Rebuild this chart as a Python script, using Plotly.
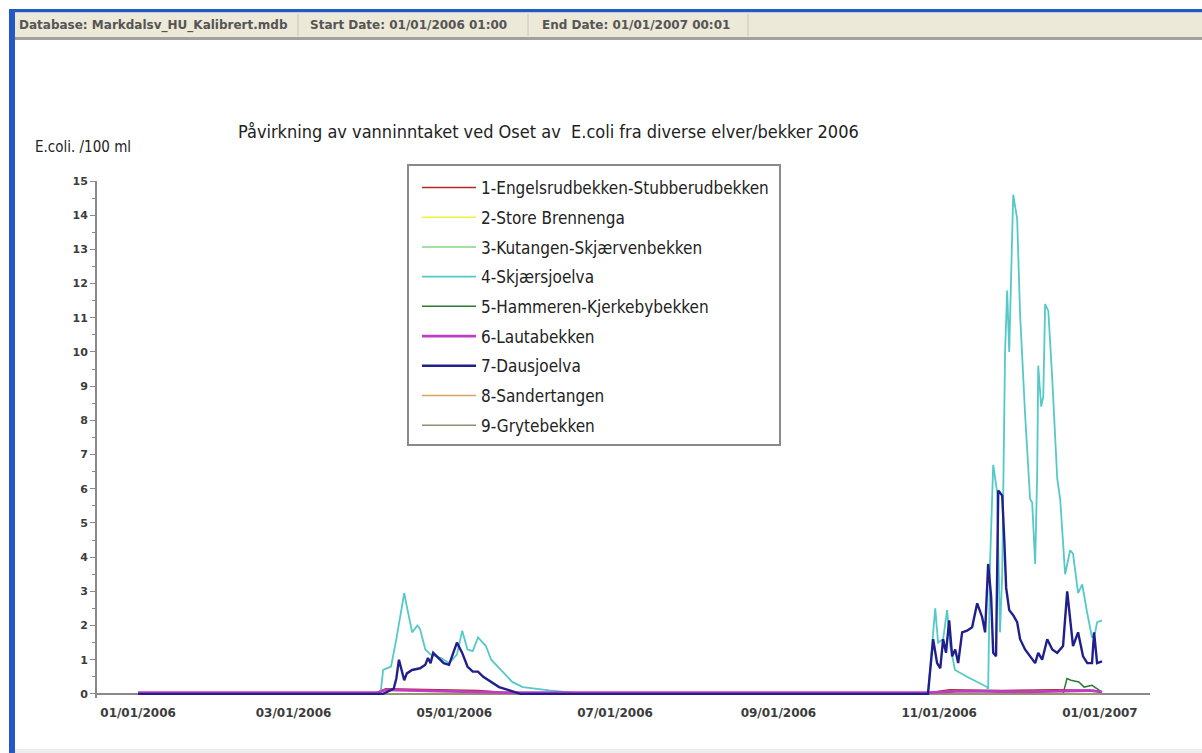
import plotly.graph_objects as go

# ---------------- data ----------------
series_names = [
    "1-Engelsrudbekken-Stubberudbekken",
    "2-Store Brennenga",
    "3-Kutangen-Skjærvenbekken",
    "4-Skjærsjoelva",
    "5-Hammeren-Kjerkebybekken",
    "6-Lautabekken",
    "7-Dausjoelva",
    "8-Sandertangen",
    "9-Grytebekken",
]
series_colors = ["#b02a2a", "#f2f23a", "#86d486", "#55c8c8", "#2c7a34",
                 "#c03cc8", "#20208c", "#d8a45c", "#8c9270"]

s1_dates = ["2006-01-01", "2006-04-01", "2006-04-05", "2006-04-20", "2006-05-10", "2006-05-25",
            "2006-10-27", "2006-11-05", "2006-11-25", "2006-12-15", "2006-12-30", "2007-01-01 19:00"]
s1_vals = [0.02, 0.02, 0.15, 0.12, 0.10, 0.02, 0.02, 0.12, 0.10, 0.12, 0.10, 0.05]

s2_dates = ["2006-01-01", "2007-01-01 19:00"]
s2_vals = [0.0, 0.0]

s3_dates = ["2006-01-01", "2007-01-01 19:00"]
s3_vals = [0.0, 0.0]

s4_dates = ["2006-01-01", "2006-04-03", "2006-04-04", "2006-04-07", "2006-04-09", "2006-04-12",
            "2006-04-13", "2006-04-15", "2006-04-17", "2006-04-18", "2006-04-20", "2006-04-22",
            "2006-04-26", "2006-04-29", "2006-05-02", "2006-05-04", "2006-05-06", "2006-05-08",
            "2006-05-10", "2006-05-13", "2006-05-15", "2006-05-18", "2006-05-21", "2006-05-23",
            "2006-05-27", "2006-06-01", "2006-06-06", "2006-06-20", "2006-10-27 18:00",
            "2006-10-30 12:00", "2006-10-31 14:00", "2006-11-02 12:00", "2006-11-04 00:00",
            "2006-11-05 05:00", "2006-11-07 00:00", "2006-11-11 14:00", "2006-11-15 10:00",
            "2006-11-19 05:00", "2006-11-19 14:00", "2006-11-20 07:00", "2006-11-21 12:00",
            "2006-11-23 00:00", "2006-11-24 02:00", "2006-11-24 22:00", "2006-11-26 00:00",
            "2006-11-26 19:00", "2006-11-27 14:00", "2006-11-29 02:00", "2006-11-30 14:00",
            "2006-12-01 17:00", "2006-12-03 14:00", "2006-12-05 12:00", "2006-12-06 07:00",
            "2006-12-07 10:00", "2006-12-08 05:00", "2006-12-08 14:00", "2006-12-09 17:00",
            "2006-12-10 12:00", "2006-12-11 05:00", "2006-12-12 10:00", "2006-12-13 22:00",
            "2006-12-15 19:00", "2006-12-16 22:00", "2006-12-18 19:00", "2006-12-20 17:00",
            "2006-12-21 19:00", "2006-12-23 17:00", "2006-12-25 07:00", "2006-12-27 05:00",
            "2006-12-29 00:00", "2006-12-30 05:00", "2006-12-30 22:00", "2007-01-01 19:00"]
s4_vals = [0.0, 0.0, 0.7, 0.8, 1.6, 2.95,
           2.55, 1.8, 2.0, 1.9, 1.3, 1.15,
           1.05, 0.9, 1.15, 1.85, 1.3, 1.25,
           1.65, 1.4, 1.0, 0.75, 0.5, 0.35,
           0.2, 0.15, 0.1, 0.0, 0.0,
           2.5, 1.5, 1.6, 2.45,
           1.4, 0.7, 0.5, 0.35,
           0.2, 0.1, 3.8, 6.7,
           5.9, 1.8, 3.5, 10.0,
           11.8, 10.0, 14.6, 13.9,
           11.1, 8.2, 5.7, 5.6,
           3.8, 6.5, 9.6, 8.4,
           8.7, 11.4, 11.2, 9.2,
           6.3, 5.7, 3.5, 4.2,
           4.1, 2.95, 3.2, 2.35,
           1.65, 1.8, 2.1, 2.15]

s5_dates = ["2006-01-01", "2006-12-18 00:00", "2006-12-19 12:00", "2006-12-21 00:00",
            "2006-12-24 00:00", "2006-12-26 00:00", "2006-12-29 00:00", "2006-12-31 00:00",
            "2007-01-01 19:00"]
s5_vals = [0.0, 0.0, 0.45, 0.4, 0.35, 0.2, 0.25, 0.15, 0.05]

s6_dates = ["2006-01-01", "2006-04-02", "2006-04-05", "2006-04-25", "2006-05-20",
            "2006-10-28", "2006-11-10", "2006-12-05", "2006-12-28", "2007-01-01 19:00"]
s6_vals = [0.04, 0.04, 0.12, 0.08, 0.04, 0.04, 0.08, 0.06, 0.1, 0.05]

s7_dates = ["2006-01-01", "2006-04-04", "2006-04-08", "2006-04-09", "2006-04-10", "2006-04-11",
            "2006-04-12", "2006-04-13", "2006-04-15", "2006-04-18", "2006-04-20", "2006-04-21",
            "2006-04-22", "2006-04-23", "2006-04-25", "2006-04-27", "2006-04-29", "2006-05-01",
            "2006-05-02", "2006-05-04", "2006-05-06", "2006-05-08", "2006-05-10", "2006-05-12",
            "2006-05-15", "2006-05-18", "2006-05-22", "2006-05-26", "2006-10-27 18:00",
            "2006-10-29 07:00", "2006-10-29 17:00", "2006-10-31 05:00", "2006-11-01 10:00",
            "2006-11-02 12:00", "2006-11-03 14:00", "2006-11-04 19:00", "2006-11-05 22:00",
            "2006-11-07 02:00", "2006-11-08 05:00", "2006-11-09 17:00", "2006-11-11 14:00",
            "2006-11-13 12:00", "2006-11-15 10:00", "2006-11-17 07:00", "2006-11-18 10:00",
            "2006-11-19 14:00", "2006-11-20 17:00", "2006-11-21 12:00", "2006-11-22 14:00",
            "2006-11-23 10:00", "2006-11-24 22:00", "2006-11-25 17:00", "2006-11-26 10:00",
            "2006-11-27 14:00", "2006-11-29 02:00", "2006-11-30 14:00", "2006-12-01 17:00",
            "2006-12-03 14:00", "2006-12-05 12:00", "2006-12-07 10:00", "2006-12-08 14:00",
            "2006-12-10 02:00", "2006-12-12 00:00", "2006-12-13 22:00", "2006-12-15 19:00",
            "2006-12-18 00:00", "2006-12-19 14:00", "2006-12-20 17:00", "2006-12-21 19:00",
            "2006-12-23 17:00", "2006-12-25 14:00", "2006-12-27 05:00", "2006-12-29 00:00",
            "2006-12-29 19:00", "2006-12-30 22:00", "2007-01-01 19:00"]
s7_vals = [0.0, 0.0, 0.15, 0.45, 1.0, 0.7,
           0.4, 0.6, 0.7, 0.75, 0.85, 1.05,
           0.9, 1.2, 1.05, 0.9, 0.85, 1.3,
           1.5, 1.2, 0.8, 0.65, 0.65, 0.5,
           0.35, 0.2, 0.1, 0.0, 0.0,
           1.4, 1.6, 0.9, 0.75,
           1.6, 1.2, 2.15, 1.1,
           1.3, 0.9, 1.8, 1.85,
           1.95, 2.65, 2.25, 1.8,
           3.8, 2.85, 1.2, 1.1,
           5.95, 5.8, 4.5, 3.1,
           2.45, 2.3, 2.1, 1.6,
           1.3, 1.1, 0.9, 1.2,
           1.0, 1.6, 1.3, 1.2,
           1.4, 3.0, 2.1, 1.4,
           1.8, 1.1, 0.9, 0.9,
           1.8, 0.9, 0.95]

s8_dates = ["2006-01-01", "2007-01-01 19:00"]
s8_vals = [0.0, 0.0]

s9_dates = ["2006-01-01", "2007-01-01 19:00"]
s9_vals = [0.0, 0.0]

all_dates = [s1_dates, s2_dates, s3_dates, s4_dates, s5_dates, s6_dates, s7_dates, s8_dates, s9_dates]
all_vals = [s1_vals, s2_vals, s3_vals, s4_vals, s5_vals, s6_vals, s7_vals, s8_vals, s9_vals]

x_tick_dates = ["2006-01-01", "2006-03-01", "2006-05-01", "2006-07-01", "2006-09-01", "2006-11-01", "2007-01-01"]
x_tick_text = ["01/01/2006", "03/01/2006", "05/01/2006", "07/01/2006", "09/01/2006", "11/01/2006", "01/01/2007"]
y_tick_vals = list(range(0, 16))

title_text = "Påvirkning av vanninntaket ved Oset av  E.coli fra diverse elver/bekker 2006"
y_title_text = "E.coli. /100 ml"
header_texts = ["Database: Markdalsv_HU_Kalibrert.mdb", "Start Date: 01/01/2006 01:00", "End Date: 01/01/2007 00:01"]

# ---------------- layout helpers ----------------
W, H = 1202, 753
ML, MR, MT, MB = 97, 52, 181, 55
PW, PH = W - ML - MR, H - MT - MB


def fx(px):
    return (px - ML) / PW


def fy(py):
    return (H - MB - py) / PH


NARROW = "DejaVu Sans Condensed, Liberation Sans Narrow, sans-serif"
TICKFONT = dict(family="DejaVu Sans", size=12, color="#3c3c3c", weight="bold")

fig = go.Figure()

draw_order = [1, 2, 4, 7, 8, 0, 3, 5, 6]
widths = [1.5, 1.5, 1.5, 1.8, 1.5, 2.8, 2.4, 1.5, 1.5]
for i in draw_order:
    fig.add_trace(go.Scatter(
        x=all_dates[i], y=all_vals[i], name=series_names[i], mode="lines",
        line=dict(color=series_colors[i], width=widths[i]),
        legendrank=i + 1, legendgroup="g%d" % i,
    ))


def prect(x0, y0, x1, y1, fill, line=None):
    d = dict(type="rect", xref="paper", yref="paper", layer="above",
             x0=fx(x0), x1=fx(x1), y0=fy(y0), y1=fy(y1), fillcolor=fill)
    d["line"] = line if line else dict(width=0)
    return d


shapes = [
    prect(10, 9, W, 12.5, "#2458c8"),          # top blue border
    prect(9, 9, 15, H, "#2458c8"),             # left blue border
    prect(15, 12.5, W, 37, "#ece9d8"),          # beige header bar
    prect(15, 37, W, 40, "#a3a29a"),
    prect(15, 749, W, H, "#ededed"),
    prect(408, 165, 780, 445, "white", dict(color="#8a8a8a", width=2)),  # legend box
]
for sx in [298, 528, 748]:
    shapes.append(dict(type="line", xref="paper", yref="paper", layer="above",
                       x0=fx(sx), x1=fx(sx), y0=fy(14), y1=fy(36),
                       line=dict(color="#c8c6b8", width=1)))

annotations = [
    dict(text=title_text, x=fx(548), y=fy(131), xref="paper", yref="paper", showarrow=False,
         xanchor="center", yanchor="middle", font=dict(family=NARROW, size=18, color="#222222")),
    dict(text=y_title_text, x=fx(33), y=fy(147), xref="paper", yref="paper", showarrow=False,
         xanchor="left", yanchor="middle", font=dict(family=NARROW, size=15, color="#222222")),
]
for txt, hx in zip(header_texts, [17, 308, 540]):
    annotations.append(dict(text=txt, x=fx(hx), y=fy(25.5), xref="paper", yref="paper", showarrow=False,
                            xanchor="left", yanchor="middle",
                            font=dict(family="DejaVu Sans", size=12, color="#555555", weight="bold")))

fig.update_layout(
    width=W, height=H,
    margin=dict(l=ML, r=MR, t=MT, b=MB, pad=0),
    paper_bgcolor="white", plot_bgcolor="white",
    showlegend=True,
    legend=dict(x=fx(417), y=fy(170), xanchor="left", yanchor="top",
                borderwidth=0, bgcolor="rgba(0,0,0,0)",
                font=dict(family=NARROW, size=17, color="#222222"),
                traceorder="grouped", tracegroupgap=4.6, itemwidth=54),
    shapes=shapes,
    annotations=annotations,
    xaxis=dict(type="date", range=["2005-12-16 10:00", "2007-01-20"],
               tickmode="array", tickvals=x_tick_dates, ticktext=x_tick_text,
               showgrid=False, zeroline=False, showline=False, ticks="",
               tickfont=TICKFONT, ticklabelstandoff=6),
    yaxis=dict(range=[-0.12, 15], tickmode="array", tickvals=y_tick_vals,
               showgrid=False, zeroline=True, zerolinecolor="#8a8a8a", zerolinewidth=2,
               showline=True, linecolor="#8a8a8a", linewidth=2,
               ticks="outside", ticklen=5, tickcolor="#8a8a8a", tickwidth=1,
               minor=dict(dtick=0.5, tick0=0, ticks="outside", ticklen=3, tickcolor="#8a8a8a"),
               tickfont=dict(family="DejaVu Sans", size=11, color="#3c3c3c", weight="bold")),
)

fig.write_html("out.html", config={"displayModeBar": False},
               post_script="document.body.style.margin='0';document.body.style.overflow='hidden';")
